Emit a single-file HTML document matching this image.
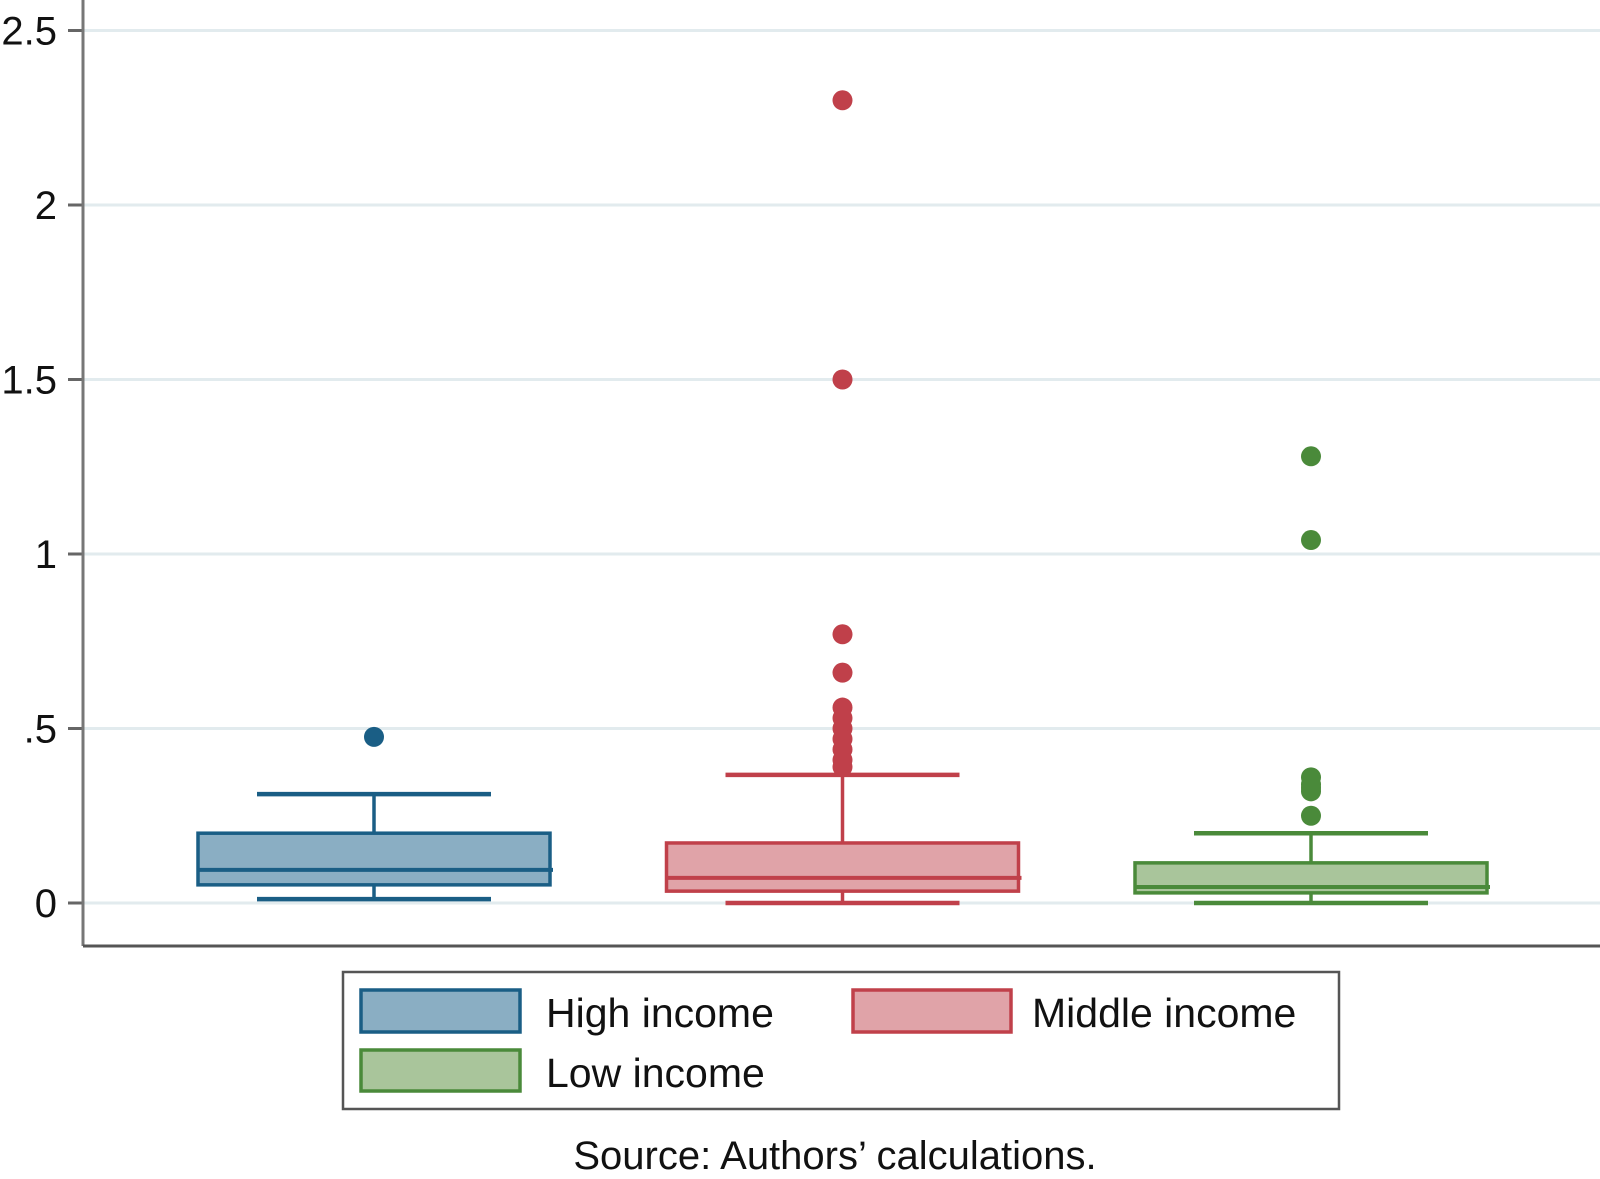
<!DOCTYPE html>
<html><head><meta charset="utf-8"><style>
html,body{margin:0;padding:0;background:#fff;}
svg{display:block;font-family:"Liberation Sans",Arial,sans-serif;}
</style></head><body>
<svg id="chart" width="1600" height="1179" viewBox="0 0 1600 1179">
<g id="grid"></g>
<g id="yaxis"></g>
<g id="boxes"></g>
<line x1="83" y1="946" x2="1600" y2="946" stroke="#555" stroke-width="3"/>
<g>
<rect x="343" y="972" width="996" height="137" fill="#fff" stroke="#555" stroke-width="2.5"/>
<g>
<rect x="361" y="990" width="159" height="42" fill="#8aaec3" stroke="#1a5e85" stroke-width="3.5"/>
<text x="546" y="1027" font-size="41" fill="#111">High income</text></g>
<g>
<rect x="853" y="990" width="158" height="42" fill="#e0a3a8" stroke="#c0404a" stroke-width="3.5"/>
<text x="1032" y="1027" font-size="41" fill="#111">Middle income</text></g>
<g>
<rect x="361" y="1050" width="159" height="41" fill="#a9c59b" stroke="#4a8a3a" stroke-width="3.5"/>
<text x="546" y="1087" font-size="41" fill="#111">Low income</text></g>
</g>
<text x="835" y="1169" font-size="40" text-anchor="middle" fill="#111">Source: Authors’ calculations.</text>
</svg>
<script>
const categories = ["High income","Middle income","Low income"];
const q1 = [0.052, 0.034, 0.029];
const medians = [0.095, 0.072, 0.046];
const q3 = [0.200, 0.172, 0.115];
const whiskerLow = [0.011, 0.0, 0.0];
const whiskerHigh = [0.312, 0.367, 0.200];
const outliersHigh = [0.476];
const outliersMiddle = [2.30, 1.50, 0.77, 0.66, 0.56, 0.53, 0.50, 0.47, 0.44, 0.41, 0.39];
const outliersLow = [1.28, 1.04, 0.36, 0.34, 0.33, 0.32, 0.25];
const yTicks = [0, 0.5, 1, 1.5, 2, 2.5];
const yTickLabels = ["0", ".5", "1", "1.5", "2", "2.5"];

const NS = "http://www.w3.org/2000/svg";
const strokes = ["#1a5e85","#c0404a","#4a8a3a"];
const fills = ["#8aaec3","#e0a3a8","#a9c59b"];
const outliers = [outliersHigh, outliersMiddle, outliersLow];
const y = v => 903 - 349 * v;
const xCenter = i => 374 + i * 468.5;
const boxW = 352, capW = 234;
function mk(tag, attrs, parent){const e=document.createElementNS(NS,tag);for(const k in attrs)e.setAttribute(k,attrs[k]);parent.appendChild(e);return e;}
const grid=document.getElementById('grid'), yaxis=document.getElementById('yaxis'), boxes=document.getElementById('boxes');
yTicks.forEach((t,i)=>{
  const g=mk('line',{x1:84,x2:1600,y1:y(t),y2:y(t),stroke:'#e2ebee','stroke-width':3},grid);
  
  
  const tk=mk('line',{x1:68,x2:83,y1:y(t),y2:y(t),stroke:'#666','stroke-width':3},yaxis);
  
  
  const tx=mk('text',{x:57,y:y(t)+14,'font-size':40,'text-anchor':'end',fill:'#111'},yaxis);
  tx.textContent=yTickLabels[i];
  
  
});
const ax=mk('line',{x1:83,x2:83,y1:0,y2:946,stroke:'#777','stroke-width':3},yaxis);


categories.forEach((c,i)=>{
  const cx=xCenter(i), s=strokes[i];
  const g=mk('g',{},boxes);
  
  
  mk('line',{x1:cx,x2:cx,y1:y(whiskerHigh[i]),y2:y(q3[i]),stroke:s,'stroke-width':3.5},g);
  mk('line',{x1:cx,x2:cx,y1:y(q1[i]),y2:y(whiskerLow[i]),stroke:s,'stroke-width':3.5},g);
  mk('line',{x1:cx-capW/2,x2:cx+capW/2,y1:y(whiskerHigh[i]),y2:y(whiskerHigh[i]),stroke:s,'stroke-width':4.5},g);
  mk('line',{x1:cx-capW/2,x2:cx+capW/2,y1:y(whiskerLow[i]),y2:y(whiskerLow[i]),stroke:s,'stroke-width':4.5},g);
  mk('rect',{x:cx-boxW/2,y:y(q3[i]),width:boxW,height:y(q1[i])-y(q3[i]),fill:fills[i],stroke:s,'stroke-width':3.5},g);
  mk('line',{x1:cx-boxW/2,x2:cx+boxW/2+3,y1:y(medians[i]),y2:y(medians[i]),stroke:s,'stroke-width':4},g);
  outliers[i].forEach(v=>{
    const p=mk('circle',{cx:cx,cy:y(v),r:10,fill:s},g);
    
    
  });
});
</script>
</body></html>
